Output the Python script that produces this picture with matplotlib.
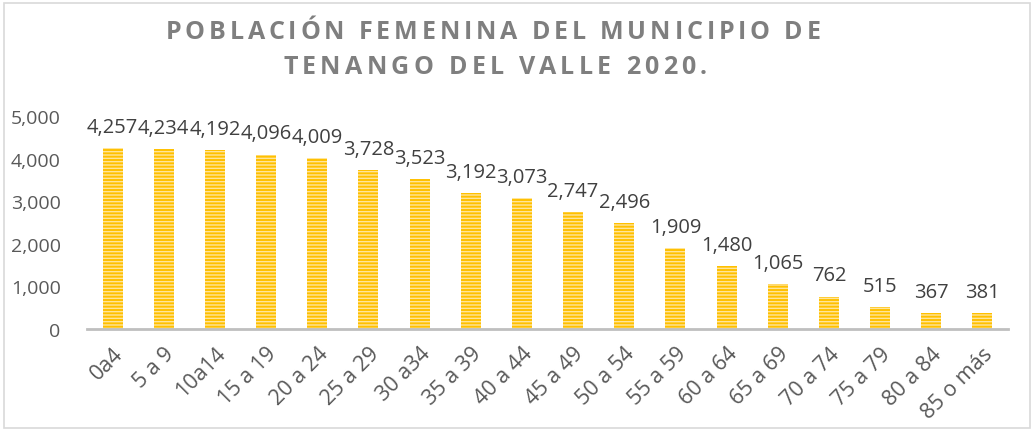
import matplotlib
matplotlib.use("Agg")
import matplotlib.pyplot as plt
from matplotlib.patches import Rectangle
from matplotlib.ticker import FuncFormatter

plt.rcParams['font.family'] = ['Open Sans', 'DejaVu Sans']

# Data
grupos = ["0a4", "5 a 9", "10a14", "15 a 19", "20 a 24", "25 a 29", "30 a34",
          "35 a 39", "40 a 44", "45 a 49", "50 a 54", "55 a 59", "60 a 64",
          "65 a 69", "70 a 74", "75 a 79", "80 a 84", "85 o más"]
mujeres = [4257, 4234, 4192, 4096, 4009, 3728, 3523, 3192, 3073, 2747,
           2496, 1909, 1480, 1065, 762, 515, 367, 381]
titulo = ["POBLACIÓN FEMENINA DEL MUNICIPIO DE", "TENANGO DEL VALLE 2020."]

W, H = 1032, 431


def tracked_text(fig, s, xc, y, width_px, **kw):
    # draw text letter by letter, spread to a given width (letter spacing)
    r = fig.canvas.get_renderer()

    def wid(t):
        tx = fig.text(0, 0, t, **kw)
        w = tx.get_window_extent(r).width
        tx.remove()
        return w

    hw = wid("H")
    pos = [0.0] + [wid(s[:i] + "H") - hw for i in range(1, len(s))]
    natural = wid(s)
    track = (width_px - natural) / (len(s) - 1)
    x0 = xc - width_px / 2
    for i, c in enumerate(s):
        if c == " ":
            continue
        fig.text((x0 + pos[i] + i * track) / W, y, c, ha="left", va="baseline", **kw)


fig = plt.figure(figsize=(W / 100, H / 100), dpi=100)
fig.patches.append(Rectangle((4 / W, 2 / H), (W - 6) / W, (H - 6) / H,
                             transform=fig.transFigure, fill=False,
                             edgecolor="#D9D9D9", linewidth=1.2))

ax = fig.add_axes([87 / W, (H - 330) / H, (1008 - 87) / W, (330 - 117) / H])
x = list(range(len(grupos)))
plt.rcParams['hatch.linewidth'] = 1.0
ax.bar(x, mujeres, width=0.39, color="#FFC000", edgecolor="#FFE59A",
       hatch="-----", linewidth=0)

for xi, v in zip(x, mujeres):
    ax.annotate(f"{v:,}", (xi, v), xytext=(0, 8), textcoords="offset points",
                ha="center", va="bottom", fontsize=14.5, color="#404040",
                annotation_clip=False)

ax.set_xlim(-0.5, len(grupos) - 0.5)
ax.set_ylim(0, 5000)
ax.set_yticks(range(0, 5001, 1000))
ax.yaxis.set_major_formatter(FuncFormatter(lambda v, p: f"{int(v):,}"))
ax.set_xticks(x)
ax.set_xticklabels(grupos, rotation=45, ha="right", rotation_mode="anchor")
ax.tick_params(axis="both", length=0, labelcolor="#595959")
ax.tick_params(axis="y", pad=19, labelsize=14)
ax.tick_params(axis="x", pad=10, labelsize=15.5)
for side in ["top", "right", "left"]:
    ax.spines[side].set_visible(False)
ax.spines["bottom"].set_color("#BFBFBF")
ax.spines["bottom"].set_linewidth(2)

style = dict(fontsize=18, fontweight="bold", color="#7F7F7F")
tracked_text(fig, titulo[0], 493, (H - 39) / H, 655, **style)
tracked_text(fig, titulo[1], 495, (H - 74) / H, 424, **style)

fig.savefig("out.png", dpi=100)
